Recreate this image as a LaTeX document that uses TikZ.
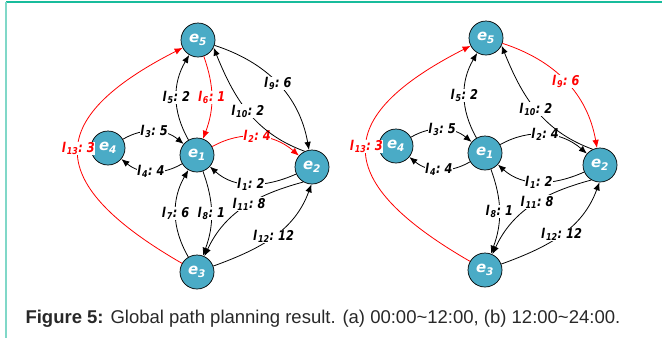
\documentclass[tikz,border=0pt]{standalone}
\usepackage{fontspec}
\setsansfont{Liberation Sans}
\newfontfamily\graphfont{DejaVu Sans}
\newfontfamily\weightfont{DejaVu Sans}[FakeStretch=0.84]
\usetikzlibrary{arrows.meta}

\definecolor{nodeblue}{RGB}{74,171,198}
\definecolor{frametop}{RGB}{24,188,156}
\definecolor{frameside}{RGB}{128,216,200}
\definecolor{captiongray}{RGB}{40,40,40}

% edge label l_i: w
\newcommand{\edgelab}[2]{l\kern0.08em\textsubscript{#1}:~#2}

\begin{document}
\begin{tikzpicture}[x=1pt, y=-1pt,
    vtx/.style={circle, draw=black, line width=0.7pt, fill=nodeblue, minimum size=34pt,
        inner sep=0pt, text=white, font=\graphfont\bfseries\itshape\fontsize{15}{15}\selectfont},
    arr/.style={-{Latex[length=8pt,width=6.5pt]}, line width=0.8pt},
    hot/.style={arr, red},
    lbl/.style={fill=white, inner sep=0.5pt, font=\weightfont\bfseries\itshape\fontsize{13.5}{13.5}\selectfont},
    hotlbl/.style={lbl, text=red}
]
\useasboundingbox (0,0) rectangle (662,338);

% frame
\draw[frametop, line width=1.2pt] (6,2) -- (662,2);
\draw[frameside, line width=2pt] (6,2) -- (6,338);

% (a) 00:00~12:00
\node[vtx] (a5) at (198,40) {e\textsubscript{5}};
\node[vtx] (a4) at (108,148) {e\textsubscript{4}};
\node[vtx] (a1) at (197,155) {e\textsubscript{1}};
\node[vtx] (a2) at (312,167) {e\textsubscript{2}};
\node[vtx] (a3) at (197,272) {e\textsubscript{3}};

\draw[arr] (a2) to[out=204,in=-42] node[lbl] {\edgelab{1}{2}} (a1);
\draw[hot] (a1) to[bend left=35] node[hotlbl] {\edgelab{2}{4}} (a2);
\draw[arr] (a4) to[bend left=35] node[lbl] {\edgelab{3}{5}} (a1);
\draw[arr] (a1) to[bend left=35] node[lbl] {\edgelab{4}{4}} (a4);
\draw[arr] (a1) to[bend left=30] node[lbl] {\edgelab{5}{2}} (a5);
\draw[hot] (a5) to[bend left=20] node[hotlbl] {\edgelab{6}{1}} (a1);
\draw[arr] (a3) to[bend left=30] node[lbl] {\edgelab{7}{6}} (a1);
\draw[arr] (a1) to[bend left=20] node[lbl] {\edgelab{8}{1}} (a3);
\draw[arr] (a5) to[out=-18,in=100] node[lbl] {\edgelab{9}{6}} (a2);
\draw[arr] (a2.115) to[out=160,in=-68] node[lbl] {\edgelab{10}{2}} (a5.-26);
\draw[arr] (a2.240) to[out=195,in=65] node[lbl, pos=0.45] {\edgelab{11}{8}} (a3);
\draw[arr] (a3) to[out=20,in=250] node[lbl] {\edgelab{12}{12}} (a2.268);
\draw[hot] (a3) to[out=150,in=207,out distance=158pt,in distance=158pt]
    node[hotlbl, pos=0.52] {\edgelab{13}{3}} (a5);

% (b) 12:00~24:00
\begin{scope}[xshift=288pt, yshift=2pt]
\node[vtx] (b5) at (198,40) {e\textsubscript{5}};
\node[vtx] (b4) at (108,148) {e\textsubscript{4}};
\node[vtx] (b1) at (197,155) {e\textsubscript{1}};
\node[vtx] (b2) at (312,167) {e\textsubscript{2}};
\node[vtx] (b3) at (197,272) {e\textsubscript{3}};

\draw[arr] (b2) to[out=204,in=-42] node[lbl] {\edgelab{1}{2}} (b1);
\draw[arr] (b1) to[bend left=35] node[lbl] {\edgelab{2}{4}} (b2);
\draw[arr] (b4) to[bend left=35] node[lbl] {\edgelab{3}{5}} (b1);
\draw[arr] (b1) to[bend left=35] node[lbl] {\edgelab{4}{4}} (b4);
\draw[arr] (b1) to[bend left=30] node[lbl] {\edgelab{5}{2}} (b5);
\draw[arr] (b1) to[bend left=20] node[lbl] {\edgelab{8}{1}} (b3);
\draw[hot] (b5) to[out=-18,in=100] node[hotlbl] {\edgelab{9}{6}} (b2);
\draw[arr] (b2.115) to[out=160,in=-68] node[lbl] {\edgelab{10}{2}} (b5.-26);
\draw[arr] (b2.240) to[out=195,in=65] node[lbl, pos=0.45] {\edgelab{11}{8}} (b3);
\draw[arr] (b3) to[out=20,in=250] node[lbl] {\edgelab{12}{12}} (b2.268);
\draw[hot] (b3) to[out=150,in=207,out distance=158pt,in distance=158pt]
    node[hotlbl, pos=0.52] {\edgelab{13}{3}} (b5);
\end{scope}

\node[anchor=base west, text=captiongray, font=\sffamily\fontsize{18.5}{20}\selectfont] (caption) at (22,323)
    {\textbf{Figure 5:} Global path planning result. (a) 00:00\textasciitilde 12:00, (b) 12:00\textasciitilde 24:00.};
\end{tikzpicture}
\end{document}
